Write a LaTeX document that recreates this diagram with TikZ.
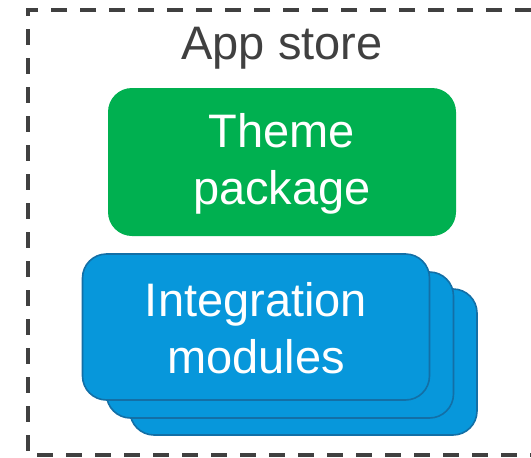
\documentclass[tikz,border=0pt]{standalone}
\usepackage{fontspec}
\setmainfont{Liberation Sans}
\begin{document}
\begin{tikzpicture}[x=1pt,y=-1pt,
  card/.style={draw=blueedge, fill=bluefill, line width=1.6pt, rounded corners=24pt},
  label/.style={text=white, font=\fontsize{47}{57}\selectfont, align=center}]
\definecolor{bluefill}{HTML}{0797DB}
\definecolor{blueedge}{HTML}{136FA6}
\definecolor{greenfill}{HTML}{00B050}
\definecolor{framegray}{HTML}{404040}
\useasboundingbox (0,0) rectangle (531,458);
\clip (0,0) rectangle (531,458);
% dashed frame of the store, open past the right edge
\draw[framegray, line width=3.6pt, dash pattern=on 16pt off 13pt] (560,10) -- (28,10) -- (28,455) -- (560,455);
\node[font=\fontsize{47}{57}\selectfont, text=framegray] (title) at (282,48) {App store};
% theme package
\node[fill=greenfill, rounded corners=24pt, minimum width=348pt, minimum height=148pt, inner sep=0pt] (theme) at (282,162) {};
\node[label] (themetext) at (282,164) {Theme\\package};
% stacked integration modules
\node[card, minimum width=347pt, minimum height=146pt, inner sep=0pt] (m3) at (303.5,362) {};
\node[card, minimum width=347pt, minimum height=146pt, inner sep=0pt] (m2) at (280,345) {};
\node[card, minimum width=347pt, minimum height=146pt, inner sep=0pt] (m1) at (256,327) {};
\node[label] (modtext) at (256,328) {Integration\\modules};
\end{tikzpicture}
\end{document}
